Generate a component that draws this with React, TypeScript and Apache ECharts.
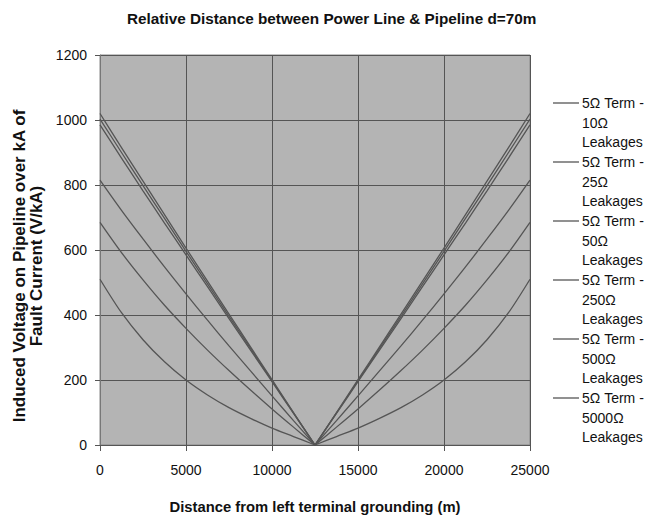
import React, { useEffect, useRef } from "react";
import * as echarts from "echarts";

const titleText = "Relative Distance between Power Line & Pipeline d=70m";
const xAxisTitle = "Distance from left terminal grounding (m)";
const yAxisTitle = "Induced Voltage on Pipeline over kA of\nFault Current (V/kA)";

const distances = [
  0, 1250, 2500, 3750, 5000, 6250, 7500, 8750, 10000, 11250, 12500,
  13750, 15000, 16250, 17500, 18750, 20000, 21250, 22500, 23750, 25000,
];
const vertexIndex = 10; // 12500 m, where every curve reaches zero

const seriesNames = [
  "5Ω Term - 10Ω Leakages",
  "5Ω Term - 25Ω Leakages",
  "5Ω Term - 50Ω Leakages",
  "5Ω Term - 250Ω Leakages",
  "5Ω Term - 500Ω Leakages",
  "5Ω Term - 5000Ω Leakages",
];

const legendLines = [
  ["5Ω Term -", "10Ω", "Leakages"],
  ["5Ω Term -", "25Ω", "Leakages"],
  ["5Ω Term -", "50Ω", "Leakages"],
  ["5Ω Term -", "250Ω", "Leakages"],
  ["5Ω Term -", "500Ω", "Leakages"],
  ["5Ω Term -", "5000Ω", "Leakages"],
];

const leak10 = [510, 407, 324, 256, 200, 154, 115, 82, 52, 26, 0, 26, 52, 82, 115, 154, 200, 256, 324, 407, 510];
const leak25 = [685, 592, 508, 430, 359, 292, 229, 169, 111, 55, 0, 55, 111, 169, 229, 292, 359, 430, 508, 592, 685];
const leak50 = [815, 722, 634, 548, 465, 384, 305, 228, 151, 75, 0, 75, 151, 228, 305, 384, 465, 548, 634, 722, 815];
const leak250 = [985, 883, 782, 683, 585, 487, 389, 292, 195, 97, 0, 97, 195, 292, 389, 487, 585, 683, 782, 883, 985];
const leak500 = [1003, 900, 798, 697, 596, 496, 396, 297, 198, 99, 0, 99, 198, 297, 396, 496, 596, 697, 798, 900, 1003];
const leak5000 = [1020, 915, 812, 709, 606, 504, 403, 302, 201, 100, 0, 100, 201, 302, 403, 504, 606, 709, 812, 915, 1020];

const allSeries = [leak10, leak25, leak50, leak250, leak500, leak5000];

const FONT = '"Liberation Sans", Arial, Helvetica, sans-serif';
const LINE_COLOR = "#555555";

export default function App() {
  const ref = useRef<HTMLDivElement>(null);

  useEffect(() => {
    if (!ref.current) return;
    const chart = echarts.init(ref.current, undefined, { renderer: "svg" });

    const legendTop = 103;
    const legendLineH = 19.5;
    const legendPitch = 59;
    const legendGraphics: any[] = [];
    legendLines.forEach((lines, i) => {
      const y = legendTop + i * legendPitch;
      legendGraphics.push({
        type: "line",
        shape: { x1: 553, y1: y, x2: 579, y2: y },
        style: { stroke: LINE_COLOR, lineWidth: 1.3 },
        silent: true,
      });
      legendGraphics.push({
        type: "text",
        x: 582,
        y: y - legendLineH / 2,
        style: {
          text: lines.join("\n"),
          fontSize: 14,
          fontFamily: FONT,
          fill: "#111",
          lineHeight: legendLineH,
          align: "left",
          verticalAlign: "top",
        },
        silent: true,
      });
    });

    const lineSeries: any[] = [];
    allSeries.forEach((vals, i) => {
      const pts = distances.map((d, j) => [d, vals[j]]);
      const halves = [pts.slice(0, vertexIndex + 1), pts.slice(vertexIndex)];
      halves.forEach((half) => {
        lineSeries.push({
          name: seriesNames[i],
          type: "line",
          data: half,
          showSymbol: false,
          symbol: "none",
          smooth: 0.3,
          lineStyle: { color: LINE_COLOR, width: 1.3 },
          itemStyle: { color: LINE_COLOR },
          emphasis: { disabled: true },
        });
      });
    });

    chart.setOption({
      animation: false,
      backgroundColor: "#ffffff",
      title: {
        text: titleText,
        left: 127,
        top: 11,
        padding: 0,
        textStyle: { fontSize: 15.3, fontWeight: "bold", fontFamily: FONT, color: "#111" },
      },
      grid: {
        left: 100,
        right: 116,
        top: 55,
        bottom: 74,
        show: true,
        backgroundColor: "#b4b4b4",
        borderColor: "#888888",
        borderWidth: 1,
        containLabel: false,
      },
      xAxis: {
        type: "value",
        min: 0,
        max: 25000,
        interval: 5000,
        name: xAxisTitle,
        nameLocation: "middle",
        nameGap: 54,
        nameTextStyle: { fontSize: 14.8, fontWeight: "bold", fontFamily: FONT, color: "#111" },
        axisLine: { show: true, lineStyle: { color: "#555", width: 1 } },
        axisTick: { show: true, inside: false, length: 6, lineStyle: { color: "#555" } },
        axisLabel: {
          fontSize: 14,
          fontFamily: FONT,
          color: "#111",
          margin: 18,
          formatter: (v: number) => String(v),
        },
        splitLine: { show: true, lineStyle: { color: "#555", width: 1 } },
      },
      yAxis: {
        type: "value",
        min: 0,
        max: 1200,
        interval: 200,
        axisLine: { show: true, lineStyle: { color: "#777", width: 1 } },
        axisTick: { show: true, inside: false, length: 5, lineStyle: { color: "#555" } },
        axisLabel: {
          fontSize: 14,
          fontFamily: FONT,
          color: "#111",
          margin: 13,
          formatter: (v: number) => String(v),
        },
        splitLine: { show: true, lineStyle: { color: "#555", width: 1 } },
      },
      graphic: [
        {
          type: "text",
          x: 28,
          y: 266,
          rotation: Math.PI / 2,
          style: {
            text: yAxisTitle,
            fontSize: 17,
            fontWeight: "bold",
            fontFamily: FONT,
            fill: "#111",
            lineHeight: 16.5,
            align: "center",
            verticalAlign: "middle",
          },
          silent: true,
        },
        ...legendGraphics,
      ],
      series: lineSeries,
    });

    return () => chart.dispose();
  }, []);

  return (
    <div
      ref={ref}
      style={{ position: "fixed", left: 0, top: 0, width: 646, height: 519, background: "#fff" }}
    />
  );
}
